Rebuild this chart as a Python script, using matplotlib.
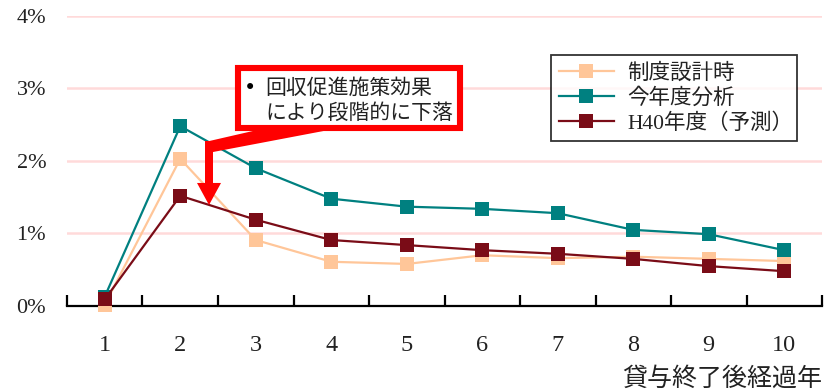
import matplotlib
matplotlib.use("Agg")
import matplotlib.pyplot as plt
from matplotlib.patches import Rectangle, Polygon
import numpy as np

# Data: default rate (%) by years since end of lending
years = ["1", "2", "3", "4", "5", "6", "7", "8", "9", "10"]
design_time = [0.02, 2.03, 0.91, 0.61, 0.58, 0.70, 0.66, 0.68, 0.65, 0.62]
this_year = [0.13, 2.48, 1.90, 1.48, 1.37, 1.34, 1.28, 1.05, 0.99, 0.77]
h40_forecast = [0.09, 1.52, 1.19, 0.91, 0.84, 0.77, 0.72, 0.65, 0.55, 0.48]

series_names = ["制度設計時", "今年度分析", "H40年度（予測）"]
y_ticks = [0, 1, 2, 3, 4]
y_tick_labels = ["0%", "1%", "2%", "3%", "4%"]
x_label = "貸与終了後経過年"
note_lines = ["回収促進施策効果", "により段階的に下落"]

colors = ["#FFC699", "#008080", "#7A0C17"]
serif = ["Liberation Serif", "Noto Sans CJK JP"]
cjk = ["Noto Sans CJK JP", "DejaVu Sans"]

fig = plt.figure(figsize=(8.25, 3.92), dpi=100)
ax = fig.add_axes([0.0812, 0.2194, 0.9152, 0.7398])

x = np.arange(len(years))
for vals, name, c in zip([design_time, this_year, h40_forecast], series_names, colors):
    ax.plot(x, vals, color=c, lw=1.6, marker="s", markersize=10.5,
            markeredgewidth=0, label=name, zorder=3, clip_on=False)

ax.set_xlim(-0.5, len(years) - 0.5)
ax.set_ylim(0, 4)

# horizontal gridlines
for yv in y_ticks[1:]:
    ax.axhline(yv, color="#FFDADA", lw=1.8, zorder=1)

for side in ["left", "right", "top"]:
    ax.spines[side].set_visible(False)
ax.spines["bottom"].set_linewidth(1.6)
ax.spines["bottom"].set_zorder(2)

ax.set_yticks(y_ticks)
ax.set_yticklabels(y_tick_labels, family=serif, fontsize=16, color="#222222")
ax.tick_params(axis="y", length=0, pad=15)

ax.set_xticks(x)
ax.set_xticklabels(years, family=serif, fontsize=17.5, color="#222222")
ax.tick_params(axis="x", which="major", length=0, pad=21)
ax.set_xticks(np.arange(-0.5, len(years)), minor=True)
ax.tick_params(axis="x", which="minor", direction="in", length=8, width=1.6)

ax.text(1.0, -0.25, x_label, transform=ax.transAxes, ha="right", va="center",
        family=cjk, fontsize=18, color="#222222")

leg = ax.legend(loc="upper left", bbox_to_anchor=(0.641, 0.0, 0.326, 0.864), mode="expand",
                prop={"family": serif, "size": 15.5},
                frameon=True, fancybox=False, edgecolor="black", handlelength=2.6,
                handletextpad=0.6, labelspacing=0.22, borderpad=0.35, borderaxespad=0)
leg.get_frame().set_linewidth(1.3)
for t in leg.get_texts():
    t.set_color("#222222")

# Callout box with arrow
red = "#FF0000"
ax.add_patch(Rectangle((1.765, 2.455), 4.705 - 1.765, 3.283 - 2.455, fill=True,
                       facecolor="white", edgecolor=red, lw=4.4, zorder=5, clip_on=False))
ax.add_patch(Polygon([(2.03, 2.43), (2.98, 2.43), (1.434, 2.124), (1.328, 2.124), (1.328, 2.262)],
                     closed=True, facecolor=red, edgecolor="none", zorder=6, clip_on=False))
ax.add_patch(Rectangle((1.328, 1.69), 0.106, 2.262 - 1.69 + 0.02, facecolor=red,
                       edgecolor="none", zorder=6, clip_on=False))
ax.add_patch(Polygon([(1.222, 1.697), (1.540, 1.697), (1.381, 1.393)], closed=True,
                     facecolor=red, edgecolor="none", zorder=6, clip_on=False))

ax.text(1.924, 3.007, "•", ha="center", va="center", fontsize=15, color="black", zorder=7)
ax.text(2.123, 3.007, note_lines[0], ha="left", va="center", family=cjk, fontsize=15,
        color="#222222", zorder=7)
ax.text(2.123, 2.662, note_lines[1], ha="left", va="center", family=cjk, fontsize=15,
        color="#222222", zorder=7)

fig.savefig("out.png", dpi=100)
